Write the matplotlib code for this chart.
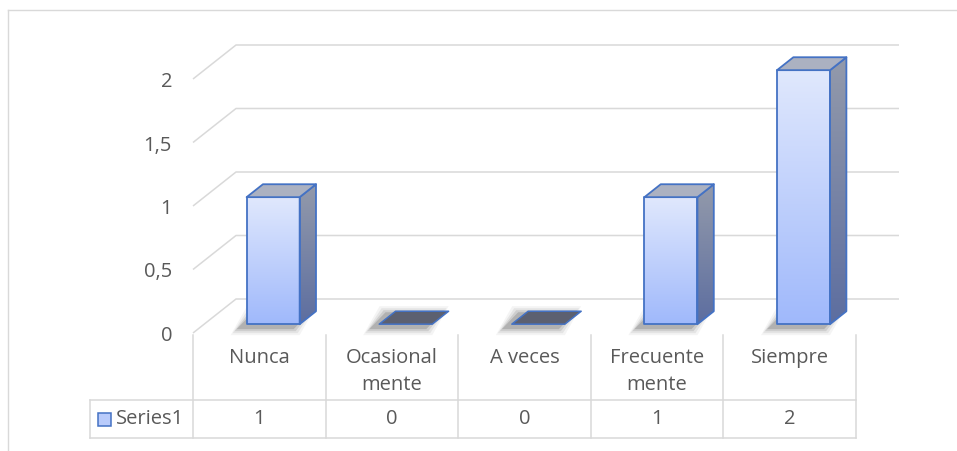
import numpy as np
import matplotlib
matplotlib.use('Agg')
import matplotlib.pyplot as plt
from matplotlib.patches import Polygon, Rectangle

# data
categories = ['Nunca', 'Ocasional\nmente', 'A veces', 'Frecuente\nmente', 'Siempre']
values = [1, 0, 0, 1, 2]
series_name = 'Series1'
yticks = [0, 0.5, 1, 1.5, 2]
ytick_labels = ['0', '0,5', '1', '1,5', '2']

plt.rcParams['font.family'] = ['Open Sans', 'DejaVu Sans']
FS = 14.5
TXT = '#595959'
GRID = '#d9d9d9'
EDGE = '#4472c4'

# pixel layout -> data coords (x = category index, y = value)
X0, CW = 193.0, 132.6     # floor front-left x, column width (px)
Y0, VH = 333.0, 127.0     # floor front value-0 y, px per unit
DXP, DYP = 43.0, 34.0     # wall depth in px

def px2x(px):
    return (px - X0) / CW - 0.5

def px2y(py):
    return (Y0 - py) / VH

DX, DY = DXP / CW, DYP / VH

def proj(i, v, d):
    return (i + d * DX, v + d * DY)

fig = plt.figure(figsize=(9.57, 4.51), dpi=100)
ax = fig.add_axes([0, 0, 1, 1])
ax.axis('off')

# outer chart border
ax.plot([px2x(8), px2x(8)], [px2y(451), px2y(10)], color=GRID, lw=1.0)
ax.plot([px2x(8), px2x(957)], [px2y(10), px2y(10)], color=GRID, lw=1.0)

n = len(categories)
# gridlines on side wall and back wall
for v in yticks:
    a = proj(-0.5, v, 0)
    b = proj(-0.5, v, 1)
    c = proj(n - 0.5, v, 1)
    ax.plot([a[0], b[0], c[0]], [a[1], b[1], c[1]], color=GRID, lw=1.1,
            solid_capstyle='butt', zorder=1)

for v, lab in zip(yticks, ytick_labels):
    ax.text(px2x(172), v - 3 / VH, lab, ha='right', va='center', fontsize=FS, color=TXT)

# bars
w = 0.40
d0, d1 = 0.26, 0.64
shift = 0.02
front_grad = np.linspace(0, 1, 100)[:, None]
front_cmap = matplotlib.colors.LinearSegmentedColormap.from_list('f', ['#a0b9fb', '#e0e8fd'])
side_cmap = matplotlib.colors.LinearSegmentedColormap.from_list('s', ['#5d6ea0', '#939aab'])

for i, v in enumerate(values):
    c = i + shift
    xl, xr = c - w / 2, c + w / 2
    # soft shadow, offset down-left
    foot = [proj(xl, 0, d0), proj(xr, 0, d0), proj(xr, 0, d1), proj(xl, 0, d1)]
    ox, oy = -8 / CW, -3 / VH
    for k, a in enumerate([0.05, 0.08, 0.12, 0.18]):
        g = (4 - k) * 2.0
        gx, gy = g / CW, g / VH
        sh = [(foot[0][0] + ox - gx, foot[0][1] + oy - gy),
              (foot[1][0] + ox + gx, foot[1][1] + oy - gy),
              (foot[2][0] + ox + gx, foot[2][1] + oy + gy),
              (foot[3][0] + ox - gx, foot[3][1] + oy + gy)]
        ax.add_patch(Polygon(sh, closed=True, fc='#303030', ec='none', alpha=a, zorder=2))
    top = [proj(xl, v, d0), proj(xr, v, d0), proj(xr, v, d1), proj(xl, v, d1)]
    if v == 0:
        ax.add_patch(Polygon(top, closed=True, fc='#5c6070', ec=EDGE, lw=1.1, zorder=3,
                             joinstyle='round'))
        continue
    fx0, fy0 = proj(xl, 0, d0)
    fx1, fy1 = proj(xr, v, d0)
    ax.imshow(front_grad, cmap=front_cmap, extent=[fx0, fx1, fy0, fy1],
              origin='lower', aspect='auto', zorder=3, interpolation='bilinear')
    ax.add_patch(Polygon([(fx0, fy0), (fx1, fy0), (fx1, fy1), (fx0, fy1)], closed=True,
                         fc='none', ec=EDGE, lw=1.3, zorder=4, joinstyle='round'))
    side = [proj(xr, 0, d0), proj(xr, 0, d1), proj(xr, v, d1), proj(xr, v, d0)]
    sx = [p[0] for p in side]
    sy = [p[1] for p in side]
    clip = Polygon(side, closed=True, fc='none', ec='none', transform=ax.transData)
    ax.add_patch(clip)
    im2 = ax.imshow(front_grad, cmap=side_cmap, extent=[min(sx), max(sx), min(sy), max(sy)],
                    origin='lower', aspect='auto', zorder=3, interpolation='bilinear')
    im2.set_clip_path(clip)
    ax.add_patch(Polygon(side, closed=True, fc='none', ec=EDGE, lw=1.3, zorder=4,
                         joinstyle='round'))
    ax.add_patch(Polygon(top, closed=True, fc='#abb1c1', ec=EDGE, lw=1.3, zorder=4,
                         joinstyle='round'))

# data table
t_top, t_mid, t_bot = px2y(335), px2y(400), px2y(438)
leg_l = px2x(90)
for k in range(n + 1):
    x = k - 0.5
    ax.plot([x, x], [t_top, t_bot], color=GRID, lw=1.1, zorder=1)
ax.plot([leg_l, leg_l], [t_mid, t_bot], color=GRID, lw=1.1, zorder=1)
ax.plot([leg_l, n - 0.5], [t_mid, t_mid], color=GRID, lw=1.1, zorder=1)
ax.plot([leg_l, n - 0.5], [t_bot, t_bot], color=GRID, lw=1.1, zorder=1)

for i, cat in enumerate(categories):
    ax.text(i, px2y(358), cat.split('\n')[0], ha='center', va='center', fontsize=FS, color=TXT)
    if '\n' in cat:
        ax.text(i, px2y(385), cat.split('\n')[1], ha='center', va='center', fontsize=FS,
                color=TXT)
    ax.text(i, px2y(419), str(values[i]), ha='center', va='center', fontsize=FS, color=TXT)

# legend key
ax.add_patch(Rectangle((px2x(98), px2y(426)), px2x(111) - px2x(98), px2y(413) - px2y(426),
                       fc='#b9cbfb', ec=EDGE, lw=1.1, zorder=4))
ax.text(px2x(116), px2y(419), series_name, ha='left', va='center', fontsize=FS, color=TXT)

ax.set_xlim(px2x(0), px2x(957))
ax.set_ylim(px2y(451), px2y(0))

fig.savefig('out.png', dpi=100, facecolor='white')
